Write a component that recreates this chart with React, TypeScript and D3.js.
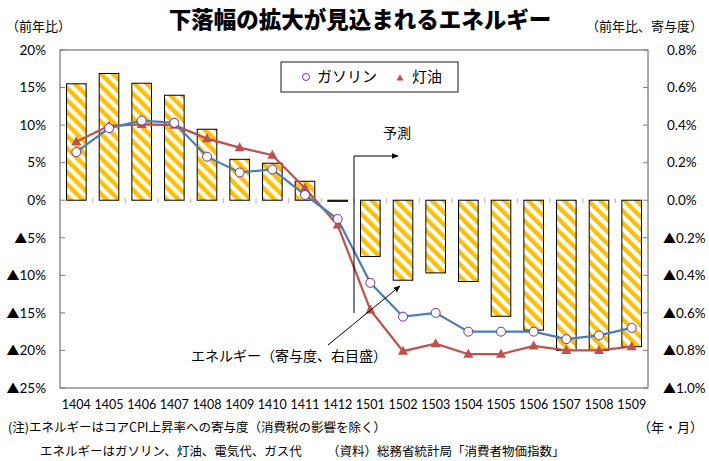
import React from "react";
import * as d3 from "d3";

// Year-month labels (YYMM)
const categories = [
  "1404", "1405", "1406", "1407", "1408", "1409", "1410", "1411", "1412",
  "1501", "1502", "1503", "1504", "1505", "1506", "1507", "1508", "1509",
];
// Energy contribution to core CPI (percentage points, right axis)
const energyContribution = [
  0.62, 0.675, 0.623, 0.559, 0.378, 0.218, 0.197, 0.101, -0.006,
  -0.3, -0.426, -0.387, -0.433, -0.618, -0.692, -0.8, -0.8, -0.78,
];
// Year-on-year change (%, left axis)
const gasoline = [
  6.4, 9.6, 10.6, 10.3, 5.8, 3.7, 4.1, 0.7, -2.5,
  -11.0, -15.5, -15.0, -17.5, -17.5, -17.5, -18.5, -18.0, -17.0,
];
const kerosene = [
  7.8, 9.9, 10.1, 10.0, 8.2, 7.0, 6.0, 1.6, -3.3,
  -14.6, -20.1, -19.1, -20.5, -20.5, -19.4, -20.0, -20.0, -19.5,
];
const leftTicks = [20, 15, 10, 5, 0, -5, -10, -15, -20, -25];
const rightTicks = [0.8, 0.6, 0.4, 0.2, 0, -0.2, -0.4, -0.6, -0.8, -1.0];
const forecastStart = "1501";

const W = 709;
const H = 461;
const plot = { left: 60, right: 648, top: 50, bottom: 388 };

const JP = '"Noto Sans CJK JP", "Noto Sans", sans-serif';
const NUM = 'Lato, "Noto Sans", sans-serif';

const GAS_LINE = "#4a7ebb";
const GAS_MARK = "#7030a0";
const KERO = "#c0504d";
const STRIPE = "#ffc000";
const AXIS = "#7f7f7f";

// Negative values carry a leading ▲ mark
function Label({ v, digits }: { v: number; digits: number }) {
  const s = `${Math.abs(v).toFixed(digits)}%`;
  if (v < 0) {
    return (
      <>
        <tspan fontFamily={JP} fontSize={13}>▲</tspan>
        <tspan>{s}</tspan>
      </>
    );
  }
  return <>{s}</>;
}

function tri(cx: number, cy: number, s: number) {
  const h = s * 0.9;
  return `M${cx},${cy - h * 0.6}L${cx + s / 2},${cy + h * 0.4}L${cx - s / 2},${cy + h * 0.4}Z`;
}

export default function App() {
  const x = d3
    .scaleBand<string>()
    .domain(categories)
    .range([plot.left, plot.right])
    .paddingInner(0.4)
    .paddingOuter(0.2);
  const yL = d3.scaleLinear().domain([-25, 20]).range([plot.bottom, plot.top]);
  const yR = d3.scaleLinear().domain([-1.0, 0.8]).range([plot.bottom, plot.top]);
  const step = x.step();
  const cx = (c: string) => (x(c) as number) + x.bandwidth() / 2;

  const line = d3
    .line<number>()
    .x((_, i) => cx(categories[i]))
    .y((d) => yL(d));

  const zeroY = yR(0);
  const fx = (x(forecastStart) as number) - (step - x.bandwidth()) / 2;

  return (
    <svg
      width={W}
      height={H}
      style={{ position: "absolute", left: 0, top: 0, background: "#fff" }}
    >
      <defs>
        <pattern
          id="stripes"
          patternUnits="userSpaceOnUse"
          width={8.5}
          height={8.5}
          patternTransform="rotate(-45)"
        >
          <rect width={8.5} height={8.5} fill="#fff" />
          <rect width={4.4} height={8.5} fill={STRIPE} />
        </pattern>
        <marker
          id="arrow"
          viewBox="0 0 10 10"
          refX={9}
          refY={5}
          markerWidth={7}
          markerHeight={7}
          orient="auto"
        >
          <path d="M0,1L10,5L0,9Z" fill="#000" />
        </marker>
      </defs>

      {/* Title and axis units */}
      <text x={360} y={28} textAnchor="middle" fontFamily={JP} fontWeight={900} fontSize={22.5}>
        下落幅の拡大が見込まれるエネルギー
      </text>
      <text x={6} y={31} fontFamily={JP} fontSize={13}>
        （前年比）
      </text>
      <text x={703} y={31} textAnchor="end" fontFamily={JP} fontSize={13}>
        （前年比、寄与度）
      </text>

      {/* Plot frame */}
      <rect
        x={plot.left}
        y={plot.top}
        width={plot.right - plot.left}
        height={plot.bottom - plot.top}
        fill="none"
        stroke="#595959"
        strokeWidth={1}
      />

      {/* Axis ticks and labels */}
      {leftTicks.map((t) => (
        <g key={`l${t}`}>
          <line x1={plot.left} x2={plot.left + 5} y1={yL(t)} y2={yL(t)} stroke={AXIS} />
          <text
            x={46}
            y={yL(t)}
            dy="0.35em"
            textAnchor="end"
            fontFamily={NUM}
            fontSize={13.5}
          >
            <Label v={t} digits={0} />
          </text>
        </g>
      ))}
      {rightTicks.map((t) => (
        <g key={`r${t}`}>
          <line x1={plot.right - 5} x2={plot.right} y1={yR(t)} y2={yR(t)} stroke={AXIS} />
          <text x={t < 0 ? 663 : 667} y={yR(t)} dy="0.35em" fontFamily={NUM} fontSize={13.5}>
            <Label v={t} digits={1} />
          </text>
        </g>
      ))}

      {/* Category ticks along zero line */}
      {categories.slice(1).map((c) => {
        const bx = (x(c) as number) - (step - x.bandwidth()) / 2;
        return (
          <line key={`t${c}`} x1={bx} x2={bx} y1={zeroY - 2} y2={zeroY + 3} stroke="#bfbfbf" strokeWidth={1.2} />
        );
      })}

      {/* Energy contribution bars */}
      {energyContribution.map((v, i) => {
        const c = categories[i];
        const y0 = Math.min(yR(v), zeroY);
        const h = Math.max(Math.abs(yR(v) - zeroY), 1);
        return (
          <rect
            key={`b${c}`}
            x={x(c)}
            y={y0}
            width={x.bandwidth()}
            height={h}
            fill="url(#stripes)"
            stroke="#000"
            strokeWidth={1}
          />
        );
      })}

      {/* Kerosene line */}
      <path d={line(kerosene) as string} fill="none" stroke={KERO} strokeWidth={2.2} />
      {kerosene.map((v, i) => (
        <path key={`k${i}`} d={tri(cx(categories[i]), yL(v), 10)} fill={KERO} />
      ))}

      {/* Gasoline line */}
      <path d={line(gasoline) as string} fill="none" stroke={GAS_LINE} strokeWidth={2.2} />
      {gasoline.map((v, i) => (
        <circle
          key={`g${i}`}
          cx={cx(categories[i])}
          cy={yL(v)}
          r={4.5}
          fill="#fff"
          stroke={GAS_MARK}
          strokeWidth={1}
        />
      ))}

      {/* Forecast marker */}
      <path
        d={`M${fx},313L${fx},156L398,156`}
        fill="none"
        stroke="#000"
        strokeWidth={1}
        markerEnd="url(#arrow)"
      />
      <text x={383} y={138} fontFamily={JP} fontSize={14}>
        予測
      </text>

      {/* Energy annotation */}
      <line x1={328} y1={345} x2={400} y2={286} stroke="#000" strokeWidth={1} markerEnd="url(#arrow)" />
      <text x={191} y={361} fontFamily={JP} fontSize={14}>
        エネルギー（寄与度、右目盛）
      </text>

      {/* Legend */}
      <rect x={281} y={62} width={177} height={30} fill="#fff" stroke="#404040" strokeWidth={1.2} />
      <circle cx={306} cy={77} r={3.5} fill="#fff" stroke={GAS_MARK} strokeWidth={1} />
      <text x={317} y={77} dy="0.35em" fontFamily={JP} fontSize={15}>
        ガソリン
      </text>
      <path d={tri(400, 78, 7)} fill={KERO} />
      <text x={412} y={77} dy="0.35em" fontFamily={JP} fontSize={15}>
        灯油
      </text>

      {/* Category labels */}
      {categories.map((c) => (
        <text
          key={`x${c}`}
          x={cx(c)}
          y={409}
          textAnchor="middle"
          fontFamily={NUM}
          fontSize={12.5}
        >
          {c}
        </text>
      ))}

      {/* Notes */}
      <text x={8} y={432} fontFamily={JP} fontSize={12.5}>
        (注)エネルギーはコアCPI上昇率への寄与度（消費税の影響を除く）
      </text>
      <text x={638} y={432} fontFamily={JP} fontSize={13}>
        （年・月）
      </text>
      <text x={40} y={456} fontFamily={JP} fontSize={12.5}>
        エネルギーはガソリン、灯油、電気代、ガス代
      </text>
      <text x={327} y={456} fontFamily={JP} fontSize={12.5}>
        （資料）総務省統計局「消費者物価指数」
      </text>
    </svg>
  );
}
